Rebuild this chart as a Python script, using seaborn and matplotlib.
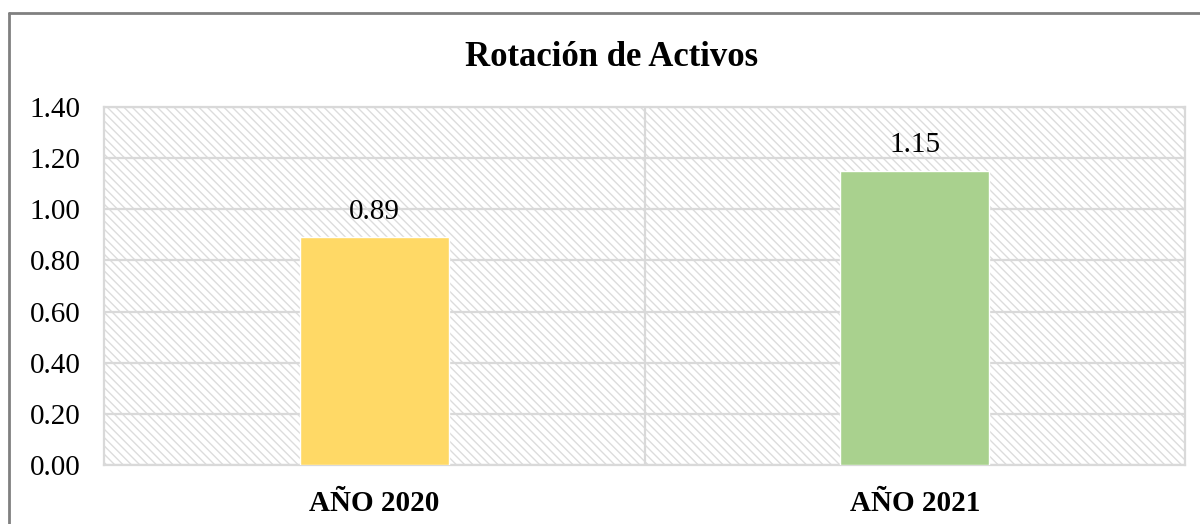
import numpy as np
import pandas as pd
import seaborn as sns
import matplotlib.pyplot as plt
from matplotlib.patches import Rectangle
from matplotlib.lines import Line2D

# data
years = ["AÑO 2020", "AÑO 2021"]
rotation = [0.89, 1.15]
bar_colors = ["#FFD966", "#A9D18E"]
y_ticks = [0.0, 0.2, 0.4, 0.6, 0.8, 1.0, 1.2, 1.4]

df = pd.DataFrame({"Year": years, "Rotation": rotation})

sns.set_style("white")
plt.rcParams['font.family'] = ['Liberation Serif', 'DejaVu Serif']
plt.rcParams['hatch.color'] = '#dcdcdc'
plt.rcParams['hatch.linewidth'] = 1.0

fig = plt.figure(figsize=(12, 5.24), dpi=100)
ax = fig.add_axes([0.0867, 0.1126, 0.9008, 0.6832])

# hatched plot-area background
bg = Rectangle((0, 0), 1, 1, transform=ax.transAxes, facecolor='white',
               edgecolor='#dcdcdc', hatch='\\\\\\\\', linewidth=0, zorder=0)
ax.add_patch(bg)

sns.barplot(data=df, x="Year", y="Rotation", hue="Year", palette=bar_colors,
            width=0.275, legend=False, ax=ax, zorder=3, saturation=1)

for c in ax.containers:
    ax.bar_label(c, fmt="%.2f", padding=9, fontsize=21, color='black')

ax.set_ylim(0, 1.4)
ax.set_xlim(-0.5, 1.5)
ax.set_yticks(y_ticks)
ax.set_yticklabels([f"{t:.2f}" for t in y_ticks])
ax.yaxis.grid(True, color='#d9d9d9', linewidth=1.6, zorder=1)
ax.axvline(0.5, color='#d9d9d9', linewidth=1.6, zorder=1)
ax.set_axisbelow(True)

for s in ax.spines.values():
    s.set_visible(True)
    s.set_color('#d9d9d9')
    s.set_linewidth(1.6)

ax.tick_params(axis='y', labelsize=21, length=0, pad=17, colors='black')
ax.tick_params(axis='x', labelsize=21, length=0, pad=18, colors='black')
for lab in ax.get_xticklabels():
    lab.set_fontweight('bold')
ax.set_xlabel("")
ax.set_ylabel("")

fig.text(0.51, 0.89, "Rotación de Activos", ha='center', va='center',
         fontsize=25, fontweight='bold', color='black')

# outer chart border (top and left visible)
fig.add_artist(Line2D([0.0079, 0.0079], [0.0, 0.975], color='#808080', linewidth=2,
                      transform=fig.transFigure))
fig.add_artist(Line2D([0.0079, 1.0], [0.975, 0.975], color='#808080', linewidth=2,
                      transform=fig.transFigure))

fig.savefig("out.png", dpi=100)
